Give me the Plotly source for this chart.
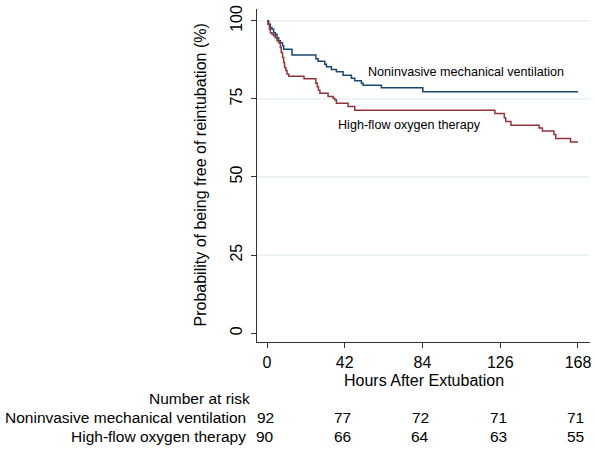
import plotly.graph_objects as go

# ---- data ----
hours_niv = [0, 0.9, 1.8, 2.7, 3.6, 4.5, 5.4, 6.3, 7.2, 8.4, 9.0, 13.5, 26.4, 27.6, 31.2,
             32.1, 34.8, 37.5, 41.1, 45.6, 47.4, 51.0, 51.9, 61.8, 84.2, 168]
surv_niv = [100, 98.9, 97.8, 97.3, 96.2, 95.7, 94.6, 93.6, 93.0, 92.0, 90.9, 89.1, 87.9, 87.1, 86.1,
            85.3, 84.4, 83.7, 82.6, 81.6, 80.8, 80.0, 79.4, 78.6, 77.3, 77.3]

hours_hfo = [0, 0.5, 1.3, 1.8, 2.7, 3.6, 4.5, 5.4, 6.3, 7.2, 7.7, 8.4, 9.0, 9.5, 10.2, 10.8, 11.7,
             20.0, 26.4, 27.2, 27.8, 28.6, 33.0, 35.7, 36.6, 37.5, 43.8, 47.4, 123.1, 128.2, 129.0,
             131.8, 147.0, 148.8, 155.0, 156.0, 164.0, 168]
surv_hfo = [100, 98.9, 97.3, 96.2, 95.7, 95.2, 94.6, 93.6, 93.0, 91.5, 89.9, 88.3, 86.7, 85.1, 84.1,
            83.0, 82.3, 81.5, 80.0, 78.9, 77.8, 76.8, 75.8, 75.2, 74.7, 73.6, 72.6, 71.4, 70.3, 68.9,
            67.8, 66.6, 65.7, 64.7, 63.6, 62.3, 61.2, 61.2]

risk_times = [0, 42, 84, 126, 168]
risk_niv = [92, 77, 72, 71, 71]
risk_hfo = [90, 66, 64, 63, 55]
x_ticks = [0, 42, 84, 126, 168]
y_ticks = [0, 25, 50, 75, 100]
grid_vals = [25, 50, 75, 100]

name_niv = "Noninvasive mechanical ventilation"
name_hfo = "High-flow oxygen therapy"

FONT = "Liberation Sans, Arial, Helvetica, sans-serif"
BLUE = "#1a476f"
RED = "#90353b"
AX = "#333333"

fig = go.Figure()
fig.add_trace(go.Scatter(x=hours_niv, y=surv_niv, mode="lines", name=name_niv,
                         line=dict(shape="hv", color=BLUE, width=1.5), showlegend=False))
fig.add_trace(go.Scatter(x=hours_hfo, y=surv_hfo, mode="lines", name=name_hfo,
                         line=dict(shape="hv", color=RED, width=1.5), showlegend=False))

for v in grid_vals:
    fig.add_hline(y=v, line=dict(color="#e4eef0", width=1.3), layer="below")

fig.update_layout(
    width=597, height=450,
    margin=dict(l=257, r=7, t=5, b=108, pad=0),
    paper_bgcolor="white", plot_bgcolor="white",
    font=dict(family=FONT, size=16, color="black"),
    xaxis=dict(range=[-5.4, 174.5], tickvals=x_ticks, ticks="outside", ticklen=5,
               tickcolor=AX, showline=True, linecolor=AX, linewidth=1,
               showgrid=False, zeroline=False, tickfont=dict(size=16, color="black"),
               ticklabelstandoff=1, ticklabeloverflow="allow"),
    yaxis=dict(range=[-2.85, 103.8], tickvals=y_ticks, tickangle=-90, ticks="outside",
               ticklen=5, tickcolor=AX, showline=True, linecolor=AX, linewidth=1,
               showgrid=False, zeroline=False, tickfont=dict(size=16, color="black"),
               ticklabelstandoff=3, ticklabeloverflow="allow"),
)

# axis titles
fig.add_annotation(text="Probability of being free of reintubation (%)", xref="paper", yref="paper",
                   x=0, y=0.5, xshift=-57, textangle=-90, showarrow=False,
                   xanchor="center", yanchor="middle", font=dict(size=16))
fig.add_annotation(text="Hours After Extubation", xref="paper", yref="paper",
                   x=0.5, y=0, yshift=-38, showarrow=False,
                   xanchor="center", yanchor="middle", font=dict(size=16))

# curve labels
fig.add_annotation(text=name_niv, x=53.5, y=83.5, xanchor="left", yanchor="middle",
                   showarrow=False, font=dict(size=12.6))
fig.add_annotation(text=name_hfo, x=37.1, y=66.8, xanchor="left", yanchor="middle",
                   showarrow=False, font=dict(size=12.6))

# number at risk table
TSIZE = 15.5
fig.add_annotation(text="Number at risk", xref="paper", yref="paper", x=0, y=0,
                   xshift=-5, yshift=-56, xanchor="right", yanchor="middle",
                   showarrow=False, font=dict(size=TSIZE))
rows = [(name_niv, risk_niv, -75), (name_hfo, risk_hfo, -94)]
for label, vals, ys in rows:
    fig.add_annotation(text=label, xref="paper", yref="paper", x=0, y=0,
                       xshift=-9, yshift=ys, xanchor="right", yanchor="middle",
                       showarrow=False, font=dict(size=TSIZE))
    for t, n in zip(risk_times, vals):
        fig.add_annotation(text=str(n), xref="x", yref="paper", x=t, y=0,
                           xshift=-2, yshift=ys, xanchor="center", yanchor="middle",
                           showarrow=False, font=dict(size=TSIZE))

fig.write_html("out.html", config={"displayModeBar": False},
               post_script="document.body.style.margin='0';")
